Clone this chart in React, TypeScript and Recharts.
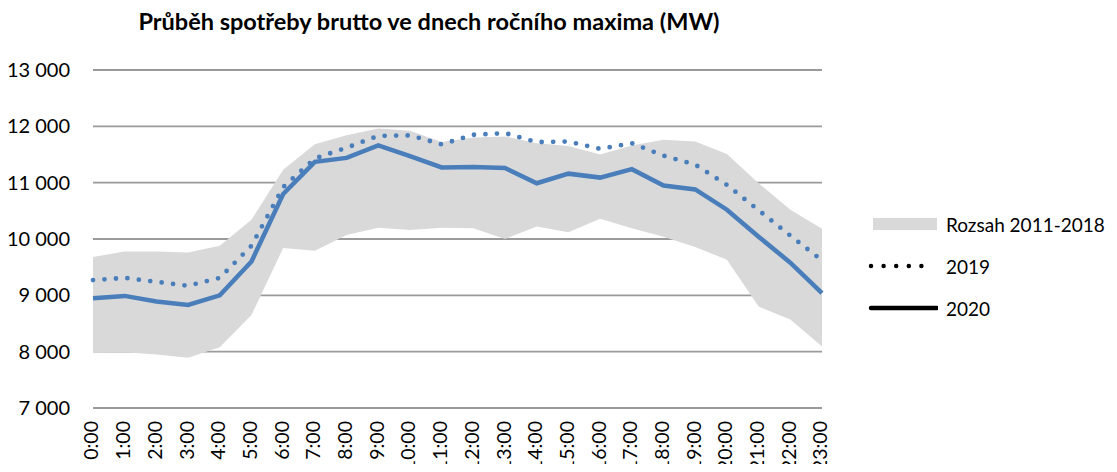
// @ts-nocheck
import { ComposedChart, Area, Line, XAxis, YAxis, CartesianGrid } from 'recharts';

const HOURS = ['0:00', '1:00', '2:00', '3:00', '4:00', '5:00', '6:00', '7:00', '8:00', '9:00', '10:00', '11:00',
  '12:00', '13:00', '14:00', '15:00', '16:00', '17:00', '18:00', '19:00', '20:00', '21:00', '22:00', '23:00'];

// Rozsah 2011-2018 (min / max)
const RANGE_LOW = [7980, 7990, 7950, 7890, 8080, 8650, 9840, 9790, 10070, 10200, 10160, 10200,
  10190, 10000, 10220, 10120, 10360, 10190, 10040, 9860, 9630, 8800, 8570, 8090];
const RANGE_HIGH = [9680, 9780, 9780, 9760, 9880, 10340, 11230, 11680, 11840, 11960, 11920, 11720,
  11800, 11820, 11700, 11650, 11500, 11660, 11760, 11730, 11510, 10990, 10520, 10180];

const Y2019 = [9270, 9310, 9240, 9170, 9310, 9880, 10920, 11430, 11620, 11830, 11840, 11680,
  11850, 11880, 11720, 11730, 11600, 11700, 11480, 11320, 10960, 10510, 10060, 9620];
const Y2020 = [8950, 8990, 8890, 8830, 9000, 9600, 10800, 11370, 11440, 11660, 11470, 11270,
  11280, 11260, 10990, 11160, 11090, 11240, 10950, 10880, 10520, 10040, 9580, 9040];

const Y_TICKS = [7000, 8000, 9000, 10000, 11000, 12000, 13000];

const data = HOURS.map((h, i) => ({
  hour: h,
  range: [RANGE_LOW[i], RANGE_HIGH[i]],
  y2019: Y2019[i],
  y2020: Y2020[i],
}));

const FONT = 'Lato, "Open Sans", sans-serif';
const BLUE = '#4a7ebb';

const fmt = (v: number) => String(v).replace(/\B(?=(\d{3})+(?!\d))/g, ' ');

function HourTick({ x, y, payload }: any) {
  return (
    <text x={0} y={0} dy="0.28em" transform={`translate(${x},${y}) rotate(-90)`} textAnchor="end"
      fontSize={19.5} fontFamily={FONT} fill="#000">
      {payload.value}
    </text>
  );
}

function LegendBox() {
  const row = { display: 'flex', alignItems: 'center', height: 42 };
  const label = { fontSize: 19, color: '#000', marginLeft: 8, fontFamily: FONT };
  return (
    <div style={{ position: 'absolute', left: 868, top: 203, width: 249 }}>
      <div style={row}>
        <svg width={70} height={20}><rect x={5} y={4} width={64} height={12} fill="#d9d9d9" /></svg>
        <span style={label}>Rozsah 2011-2018</span>
      </div>
      <div style={row}>
        <svg width={70} height={20}>
          <line x1={3} y1={10} x2={66} y2={10} stroke="#000" strokeWidth={4.5} strokeDasharray="0 12.6" strokeLinecap="round" />
        </svg>
        <span style={label}>2019</span>
      </div>
      <div style={row}>
        <svg width={70} height={20}>
          <line x1={3} y1={10} x2={69} y2={10} stroke="#000" strokeWidth={4.5} strokeLinecap="round" />
        </svg>
        <span style={label}>2020</span>
      </div>
    </div>
  );
}

export default function App() {
  return (
    <div style={{ position: 'relative', margin: -8, width: 1117, height: 472, background: '#fff', fontFamily: FONT }}>
      <div style={{ position: 'absolute', left: 0, width: 858, top: 7, textAlign: 'center', fontWeight: 700, fontSize: 23.5, color: '#000' }}>
        Průběh spotřeby brutto ve dnech ročního maxima (MW)
      </div>
      <ComposedChart width={1117} height={472} data={data} margin={{ top: 70, right: 295, bottom: 0, left: 0 }}>
        <CartesianGrid vertical={false} stroke="#9a9a9a" strokeWidth={1.8} />
        <XAxis dataKey="hour" scale="point" padding={{ left: 0, right: 0 }} axisLine={false} tickLine={false}
          tickSize={0} tickMargin={13} interval={0} height={64} tick={<HourTick />} />
        <YAxis domain={[7000, 13000]} ticks={Y_TICKS} tickFormatter={fmt} axisLine={false} tickLine={false}
          tickSize={0} tickMargin={23} width={93} tick={{ fontSize: 20, fill: '#000', fontFamily: FONT }} />
        <Area type="linear" dataKey="range" fill="#d9d9d9" fillOpacity={1} stroke="none" isAnimationActive={false} />
        <Line type="linear" dataKey="y2019" stroke={BLUE} strokeWidth={4.8} strokeDasharray="0 11.5"
          strokeLinecap="round" dot={false} activeDot={false} isAnimationActive={false} />
        <Line type="linear" dataKey="y2020" stroke={BLUE} strokeWidth={4.5} dot={false} activeDot={false}
          isAnimationActive={false} />
      </ComposedChart>
      <LegendBox />
    </div>
  );
}
